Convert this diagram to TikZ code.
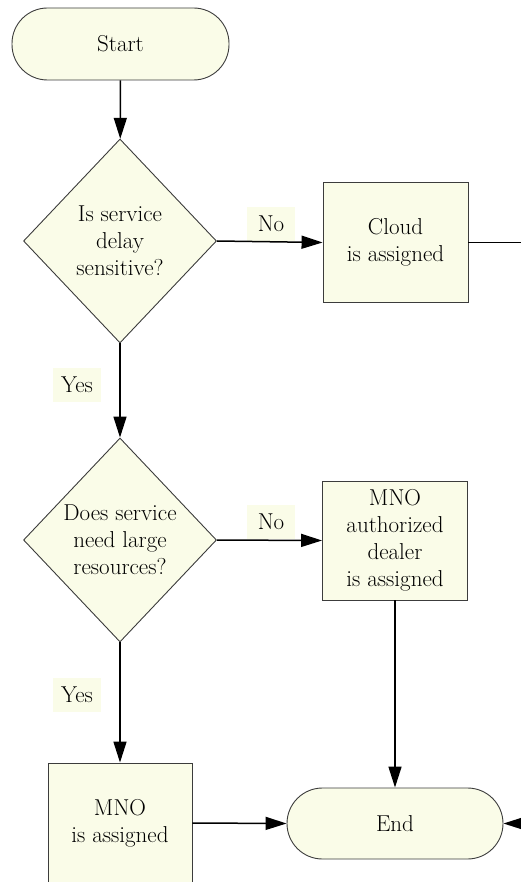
\documentclass[tikz,border=0pt]{standalone}
\usepackage{fontspec}
\usetikzlibrary{shapes.geometric,arrows.meta}
\definecolor{cream}{RGB}{250,252,232}
\definecolor{edge}{RGB}{60,60,60}
\tikzset{
  base/.style={draw=edge,line width=0.9pt,fill=cream,inner sep=0pt,align=center,font=\rmfamily\fontsize{23}{27}\selectfont},
  term/.style={base,rounded corners=35.5pt,minimum width=217pt,minimum height=72pt},
  procbox/.style={base,minimum width=145pt,minimum height=120pt},
  dia/.style={base,diamond,minimum width=193pt,minimum height=204pt},
  txt/.style={inner sep=0pt,align=center,font=\rmfamily\fontsize{23}{27}\selectfont},
  lbl/.style={fill=cream,inner sep=0pt,minimum width=48pt,minimum height=34pt,font=\rmfamily\fontsize{23}{27}\selectfont},
  conn/.style={line width=1.5pt,-{Triangle[length=21pt,width=13pt]}},
  solidline/.style={line width=1.5pt}
}
\begin{document}
\begin{tikzpicture}[x=1pt,y=-1pt]
\useasboundingbox (0,0) rectangle (521,882);
\node[term] (start) at (120.5,44) {Start};
\node[dia] (d1) at (120,241) {};
\node[txt] at (d1) {Is service\\delay\\sensitive?};
\node[procbox] (cloud) at (395.5,242.5) {Cloud\\is assigned};
\node[dia] (d2) at (120,540) {};
\node[txt] at (d2) {Does service\\need large\\resources?};
\node[procbox,minimum height=119pt] (dealer) at (395,540.5) {MNO\\authorized\\dealer\\is assigned};
\node[procbox,minimum width=144pt] (mno) at (120,823) {MNO\\is assigned};
\node[term,minimum width=216pt,minimum height=71pt] (end) at (395,823.5) {End};
\node[lbl] (no1) at (271,224) {No};
\node[lbl] (no2) at (271,522) {No};
\node[lbl] (yes1) at (77,385) {Yes};
\node[lbl] (yes2) at (77,695) {Yes};
\coordinate (cloudout) at (522,242.5);
\coordinate (endin) at (522,823.5);
\draw[conn] (start) -- (d1);
\draw[conn] (d1.east) -- (cloud.west);
\draw[solidline] (cloud.east) -- (cloudout);
\draw[conn] (d1.south) -- (d2.north);
\draw[conn] (d2.east) -- (dealer.west);
\draw[conn] (d2.south) -- (mno.north);
\draw[conn] (dealer.south) -- (end.north);
\draw[conn] (mno.east) -- (end.west);
\draw[conn] (endin) -- (end.east);
\end{tikzpicture}
\end{document}
